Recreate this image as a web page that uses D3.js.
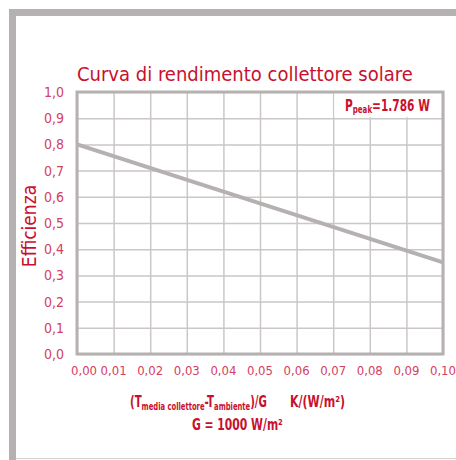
<!DOCTYPE html>
<html>
<head>
<meta charset="utf-8">
<script src="https://cdn.jsdelivr.net/npm/d3@7"></script>
<style>
  body { margin:0; background:#fff; }
  text { font-family: 'DejaVu Sans Condensed', 'Liberation Sans Narrow', sans-serif; }
</style>
</head>
<body>
<div id="app"></div>
<script>
// data
var xTicks = [0, 0.01, 0.02, 0.03, 0.04, 0.05, 0.06, 0.07, 0.08, 0.09, 0.10];
var yTicks = [0, 0.1, 0.2, 0.3, 0.4, 0.5, 0.6, 0.7, 0.8, 0.9, 1.0];
var xValues = [0, 0.10];                                                        // (Tm-Ta)/G
var yValues = [0.80, 0.35];                                                     // efficienza
var peakLabel = "=1.786 W";

var svgWidth = 456, svgHeight = 460;
var margin = { top: 92, right: 13, bottom: 106, left: 77 };
var planeWidth = svgWidth - margin.left - margin.right;
var planeHeight = svgHeight - margin.top - margin.bottom;

var red = "#c8102e", tickRed = "#d4405f", frameGray = "#b5b1b0", gridGray = "#cac7c6";

var svg = d3.select('#app')
            .append("svg")
            .attr("width", svgWidth)
            .attr("height", svgHeight);

// squeeze a bold label horizontally so it fits like the condensed original
function fit(sel, x, y, width) {
    var w = sel.node().getBBox().width;
    sel.attr("x", 0).attr("y", 0)
       .attr("transform", "translate(" + x + "," + y + ") scale(" + (width / w) + ",1)");
}

// outer frame
svg.append("rect").attr("x", 9).attr("y", 9).attr("width", svgWidth - 9).attr("height", 7).attr("fill", frameGray);
svg.append("rect").attr("x", 9).attr("y", 9).attr("width", 7).attr("height", svgHeight - 9).attr("fill", frameGray);
svg.append("line").attr("x1", 16).attr("x2", svgWidth).attr("y1", 458.5).attr("y2", 458.5)
    .attr("stroke", "#d6d3d2").attr("stroke-width", 1);

var xScale = d3.scaleLinear().domain([0, 0.10]).range([0, planeWidth]);
var yScale = d3.scaleLinear().domain([0, 1]).range([planeHeight, 0]);

var plot = svg.append("g").attr("transform", "translate(" + margin.left + "," + margin.top + ")");

// grid
plot.append("g").attr("class", "x-grid")
    .call(d3.axisBottom(xScale).tickValues(xTicks).tickSize(planeHeight).tickFormat(""));
plot.append("g").attr("class", "y-grid")
    .call(d3.axisLeft(yScale).tickValues(yTicks).tickSize(-planeWidth).tickFormat(""));
plot.selectAll(".x-grid .domain, .y-grid .domain").remove();
plot.selectAll(".x-grid line, .y-grid line").attr("stroke", gridGray).attr("stroke-width", 1.5);

// white box behind the Ppeak label (covers grid in top row)
plot.append("rect")
    .attr("x", xScale(0.07) + 1)
    .attr("y", yScale(1.0))
    .attr("width", xScale(0.10) - xScale(0.07) - 1)
    .attr("height", yScale(0.9) - yScale(1.0) - 1)
    .attr("fill", "#fff");

// plot frame
plot.append("rect")
    .attr("width", planeWidth).attr("height", planeHeight)
    .attr("fill", "none").attr("stroke", frameGray).attr("stroke-width", 3);

// efficiency line
var line = d3.line()
    .x(function(d){ return xScale(d[0]); })
    .y(function(d){ return yScale(d[1]); });
plot.append("path")
    .datum(xValues.map(function(x, i){ return [x, yValues[i]]; }))
    .attr("d", line)
    .attr("fill", "none")
    .attr("stroke", frameGray)
    .attr("stroke-width", 4);

// tick labels
var fmt = function(d, n){ return d.toFixed(n).replace(".", ","); };
plot.append("g").selectAll("text")
    .data(yTicks).enter().append("text")
    .attr("x", -13)
    .attr("y", function(d){ return yScale(d) + 5; })
    .attr("text-anchor", "end")
    .attr("font-size", 14)
    .attr("fill", tickRed)
    .text(function(d){ return fmt(d, 1); });
plot.append("g").selectAll("text")
    .data(xTicks).enter().append("text")
    .attr("x", function(d, i){ return xScale(d) + (i === 0 ? 7 : 0); })
    .attr("y", planeHeight + 21)
    .attr("text-anchor", "middle")
    .attr("font-size", 13)
    .attr("fill", tickRed)
    .text(function(d){ return fmt(d, 2); });

// title
svg.append("text")
    .attr("x", 77).attr("y", 81)
    .attr("font-size", 20)
    .attr("fill", red)
    .text("Curva di rendimento collettore solare");

// y title
svg.append("text")
    .attr("transform", "translate(36,226) rotate(-90)")
    .attr("text-anchor", "middle")
    .attr("font-size", 19)
    .attr("fill", red)
    .text("Efficienza");

// Ppeak
var pk = svg.append("text")
    .attr("font-size", 15).attr("font-weight", "bold")
    .attr("fill", red);
pk.append("tspan").text("P");
pk.append("tspan").attr("font-size", 10).attr("dy", 2).text("peak");
pk.append("tspan").attr("dy", -2).text(peakLabel);
fit(pk, 345, 111, 85);

// x title
var xt = svg.append("text")
    .attr("font-size", 15).attr("font-weight", "bold")
    .attr("fill", red);
xt.append("tspan").text("(T");
xt.append("tspan").attr("font-size", 10).attr("dy", 3).text("media collettore");
xt.append("tspan").attr("dy", -3).text("-T");
xt.append("tspan").attr("font-size", 10).attr("dy", 3).text("ambiente");
xt.append("tspan").attr("dy", -3).text(")/G");
fit(xt, 130, 407, 137);
var xu = svg.append("text")
    .attr("font-size", 15).attr("font-weight", "bold")
    .attr("fill", red)
    .text("K/(W/m²)");
fit(xu, 290, 407, 55);
var gl = svg.append("text")
    .attr("font-size", 15).attr("font-weight", "bold")
    .attr("fill", red)
    .text("G = 1000 W/m²");
fit(gl, 192, 430, 91);
</script>
</body>
</html>
